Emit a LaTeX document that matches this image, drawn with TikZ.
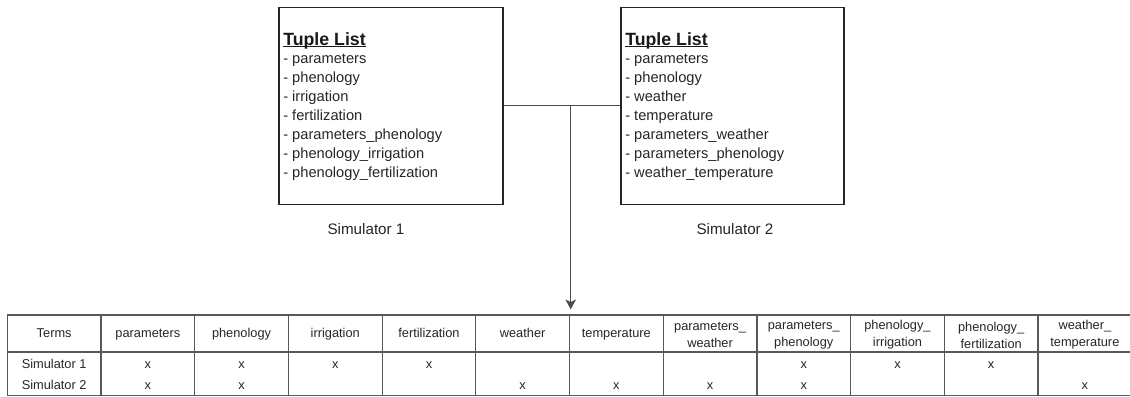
\documentclass[tikz,border=0pt]{standalone}
\usepackage{fontspec}
\setmainfont{Liberation Sans}
\usetikzlibrary{arrows.meta,calc}
\begin{document}
\begin{tikzpicture}[x=0.75pt,y=-0.75pt,
  boxst/.style={draw=black!85,line width=1pt,minimum width=168pt,minimum height=147.75pt,inner sep=0pt},
  conn/.style={draw=black!70,line width=1pt},
  ttl/.style={font=\bfseries\fontsize{13.3}{16}\selectfont,text=black!90,inner sep=0pt,anchor=base west},
  itm/.style={font=\fontsize{11}{14}\selectfont,text=black!85,inner sep=0pt,anchor=base west},
  lbl/.style={font=\fontsize{11.4}{14}\selectfont,text=black!85,inner sep=0pt,anchor=base},
  txt/.style={font=\fontsize{9.6}{12.75}\selectfont,text=black!85,inner sep=0pt},
  hcell/.style={draw=black!65,line width=0.9pt,minimum width=70.275pt,minimum height=27.75pt,inner sep=0pt},
  bcell/.style={draw=black!65,line width=0.9pt,minimum width=70.275pt,minimum height=32.5pt,inner sep=0pt}]
\useasboundingbox (0,0) rectangle (1130,396);

% boxes
\node[boxst] (b1) at (391,105.8) {};
\node[boxst,minimum width=167.25pt] (b2) at (732.5,105.8) {};

\node[ttl] (t1) at (283,45) {Tuple List};
\draw[line width=0.9pt,black!90] ([yshift=-1.3pt]t1.base west) -- ([yshift=-1.3pt]t1.base east);
\foreach [count=\k] \t in {parameters,phenology,irrigation,fertilization,parameters\_phenology,phenology\_irrigation,phenology\_fertilization}{
  \node[itm] (la\k) at (283,{63+19*(\k-1)}) {- \t};
}
\node[ttl] (t2) at (625,45) {Tuple List};
\draw[line width=0.9pt,black!90] ([yshift=-1.3pt]t2.base west) -- ([yshift=-1.3pt]t2.base east);
\foreach [count=\k] \t in {parameters,phenology,weather,temperature,parameters\_weather,parameters\_phenology,weather\_temperature}{
  \node[itm] (lb\k) at (625,{63+19*(\k-1)}) {- \t};
}

\node[lbl] (s1) at (366,234) {Simulator 1};
\node[lbl] (s2) at (735,234) {Simulator 2};

% table
\foreach [count=\i] \t in {Terms,parameters,phenology,irrigation,fertilization,weather,temperature}{
  \node[hcell] (h\i) at ({7.3+93.7*(\i-0.5)},333.5) {};
  \node[txt,anchor=base] (ht\i) at ({7.3+93.7*(\i-0.5)},337.6) {\t};
}
\foreach [count=\j from 8] \t in {{parameters\_\\weather},{parameters\_\\phenology},{phenology\_\\irrigation},{phenology\_\\fertilization},{weather\_\\temperature}}{
  \node[hcell] (h\j) at ({7.3+93.7*(\j-0.5)},333.5) {};
  \node[txt,align=center] (ht\j) at ({7.3+93.7*(\j-0.5)},335) {\t};
}
\foreach \c in {1,...,12}{
  \node[bcell] (bc\c) at ({7.3+93.7*(\c-0.5)},373.65) {};
}
\node[txt,anchor=base] (r1) at (54.15,368) {Simulator 1};
\node[txt,anchor=base] (r2) at (54.15,389) {Simulator 2};
\foreach \c in {2,3,4,5,9,10,11}{
  \node[txt,anchor=base] (ra\c) at ({7.3+93.7*(\c-0.5)},368) {x};
}
\foreach \c in {2,3,6,7,8,9,12}{
  \node[txt,anchor=base] (rb\c) at ({7.3+93.7*(\c-0.5)},389) {x};
}

% connectors
\draw[conn] (b1.east) -- (b2.west);
\coordinate (j) at (570.7,105.8);
\draw[conn,-{Stealth[length=7.5pt,width=8pt,inset=2pt]},shorten >=3.75pt] (j) -- (j |- h6.north);
\end{tikzpicture}
\end{document}
